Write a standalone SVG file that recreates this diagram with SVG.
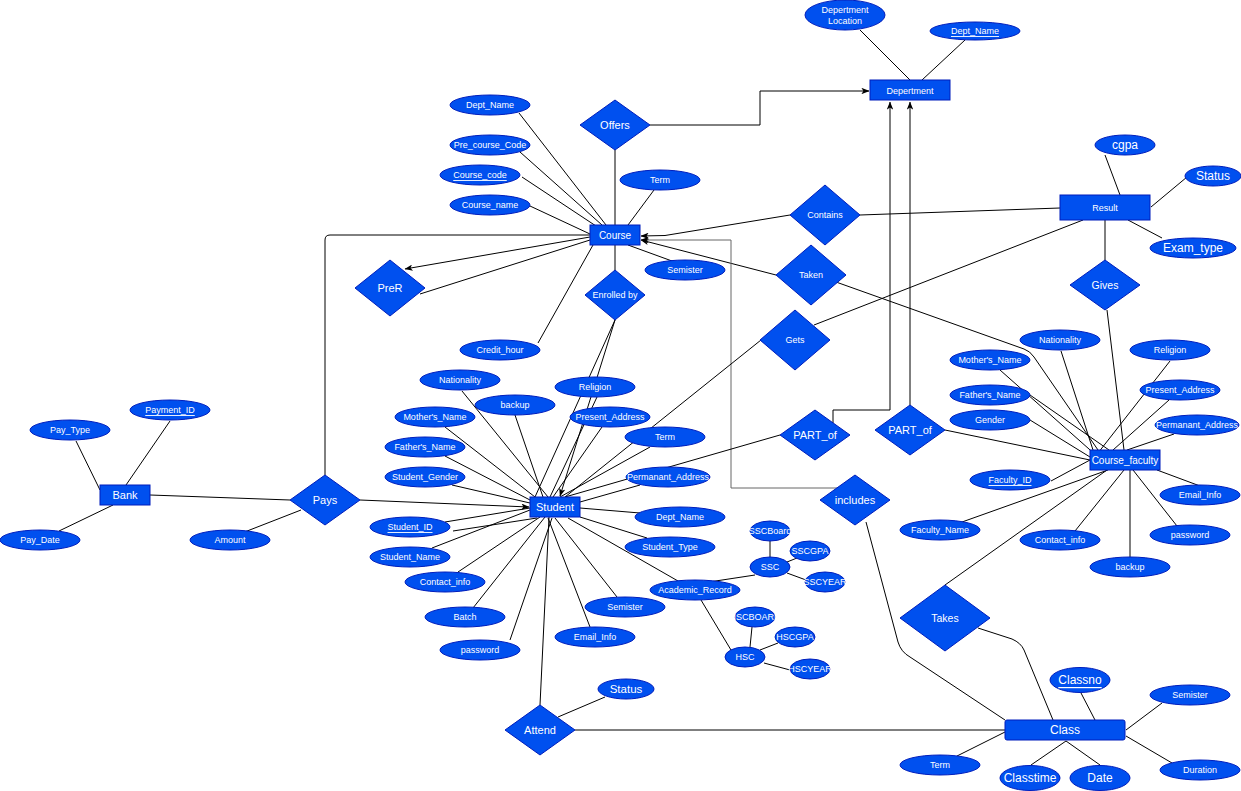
<svg xmlns="http://www.w3.org/2000/svg" width="1241" height="791" viewBox="0 0 1241 791">
<style>
.n{fill:#0050EF;stroke:#001DBC;stroke-width:1}
.t{fill:#fff;font-family:"Liberation Sans",Arial,sans-serif;font-size:9px;text-anchor:middle;dominant-baseline:central}
.u{text-decoration:underline}
.c line,.c path{stroke:#000;stroke-width:1;fill:none}
.c .g{stroke:#666}
</style>
<defs>
<marker id="ar" viewBox="0 0 10 8" refX="9.5" refY="4" markerWidth="8" markerHeight="6.4" orient="auto" markerUnits="userSpaceOnUse">
<path d="M0,0 L10,4 L0,8 L2.5,4 z" fill="#000"/>
</marker>
</defs>
<rect width="1241" height="791" fill="#fff"/>
<g class="c" id="connectors">
<line x1="860" y1="30" x2="910" y2="80"/>
<line x1="965" y1="40" x2="922" y2="80"/>
<path d="M650,125 L760,125 L760,91 L869,91" marker-end="url(#ar)"/>
<path d="M833,423 L833,410 L890,410 L890,102" marker-end="url(#ar)"/>
<path d="M910,405 L910,102" marker-end="url(#ar)"/>
<line x1="615" y1="150" x2="615" y2="225"/>
<line x1="519" y1="113" x2="606" y2="225"/>
<line x1="520" y1="152" x2="602" y2="225"/>
<line x1="522" y1="177" x2="596" y2="226"/>
<line x1="530" y1="206" x2="590" y2="234"/>
<line x1="654" y1="190" x2="628" y2="225"/>
<line x1="672" y1="261" x2="628" y2="245"/>
<line x1="615" y1="245" x2="615" y2="270"/>
<line x1="538" y1="343" x2="593" y2="245"/>
<path d="M325,475 L325,240 Q325,235 330,235 L590,235"/>
<path d="M590,237 L405,269" marker-end="url(#ar)"/>
<line x1="420" y1="294" x2="590" y2="240"/>
<path d="M790,215 L665,235.5 L641,236" marker-end="url(#ar)"/>
<line x1="1060" y1="208" x2="860" y2="215"/>
<path d="M776,275 L641,240" marker-end="url(#ar)"/>
<path class="g" d="M837,488 L731,488 L731,240 L641,240" marker-end="url(#ar)"/>
<path d="M836,282 L1024,349 Q1030,351 1034,357 L1098,450"/>
<line x1="761" y1="340" x2="565" y2="497"/>
<line x1="814" y1="325" x2="1083" y2="220"/>
<line x1="1105" y1="220" x2="1105" y2="260"/>
<line x1="1107" y1="310" x2="1124" y2="450"/>
<line x1="1105" y1="155" x2="1120" y2="195"/>
<line x1="1151" y1="207" x2="1187" y2="177"/>
<line x1="1128" y1="220" x2="1162" y2="238"/>
<line x1="1000" y1="370" x2="1098" y2="457"/>
<line x1="1061" y1="351" x2="1093" y2="450"/>
<line x1="1030" y1="395" x2="1109" y2="450"/>
<line x1="1030" y1="420" x2="1090" y2="457"/>
<line x1="945" y1="430" x2="1090" y2="460"/>
<line x1="1170" y1="361" x2="1098" y2="453"/>
<line x1="1169" y1="400" x2="1113" y2="450"/>
<line x1="1174" y1="434" x2="1127" y2="450"/>
<line x1="1051" y1="481" x2="1090" y2="460"/>
<line x1="962" y1="522" x2="1108" y2="470"/>
<line x1="1075" y1="531" x2="1124" y2="470"/>
<line x1="1130" y1="470" x2="1130" y2="557"/>
<line x1="1177" y1="526" x2="1133" y2="470"/>
<line x1="1200" y1="486" x2="1157" y2="470"/>
<line x1="945" y1="585" x2="1107" y2="470"/>
<path d="M866,522 L898,642 Q901,652 910,657 L1005,720"/>
<path d="M978,628 L1012,639 Q1021,643 1024,650 L1053,720"/>
<line x1="575" y1="730" x2="1005" y2="730"/>
<line x1="1081" y1="693" x2="1095" y2="720"/>
<line x1="1162" y1="703" x2="1126" y2="730"/>
<line x1="1172" y1="763" x2="1126" y2="736"/>
<line x1="957" y1="756" x2="1005" y2="732"/>
<line x1="1031" y1="765" x2="1066" y2="741"/>
<line x1="1100" y1="765" x2="1066" y2="741"/>
<line x1="540" y1="705" x2="549" y2="517"/>
<line x1="558" y1="717" x2="605" y2="697"/>
<line x1="76" y1="441" x2="100" y2="490"/>
<line x1="170" y1="421" x2="126" y2="485"/>
<line x1="59" y1="531" x2="113" y2="505"/>
<line x1="150" y1="495" x2="290" y2="500"/>
<line x1="242" y1="533" x2="301" y2="510"/>
<path d="M360,500 L529,507" marker-end="url(#ar)"/>
<path d="M615,320 L560,496" marker-end="url(#ar)"/>
<line x1="615" y1="320" x2="535" y2="497"/>
<line x1="780" y1="435" x2="565" y2="497"/>
<line x1="462" y1="391" x2="548" y2="497"/>
<line x1="515" y1="415" x2="543" y2="497"/>
<line x1="445" y1="427" x2="535" y2="497"/>
<line x1="445" y1="456" x2="530" y2="500"/>
<line x1="452" y1="485" x2="530" y2="503"/>
<line x1="445" y1="522" x2="530" y2="508"/>
<line x1="453" y1="531" x2="537" y2="518"/>
<line x1="432" y1="548" x2="530" y2="510"/>
<line x1="458" y1="572" x2="540" y2="517"/>
<line x1="473" y1="608" x2="545" y2="517"/>
<line x1="510" y1="640" x2="552" y2="518"/>
<line x1="597" y1="397" x2="550" y2="497"/>
<line x1="602" y1="427" x2="553" y2="497"/>
<line x1="650" y1="447" x2="560" y2="497"/>
<line x1="640" y1="485" x2="580" y2="502"/>
<line x1="580" y1="508" x2="640" y2="513"/>
<line x1="580" y1="517" x2="647" y2="538"/>
<line x1="568" y1="518" x2="678" y2="581"/>
<line x1="555" y1="518" x2="617" y2="597"/>
<line x1="548" y1="518" x2="590" y2="627"/>
<line x1="709" y1="582" x2="755" y2="575"/>
<line x1="701" y1="600" x2="731" y2="650"/>
<line x1="770" y1="541" x2="770" y2="557"/>
<line x1="787" y1="562" x2="797" y2="558"/>
<line x1="787" y1="573" x2="806" y2="580"/>
<line x1="752" y1="627" x2="750" y2="647"/>
<line x1="760" y1="650" x2="778" y2="643"/>
<line x1="764" y1="663" x2="790" y2="670"/>
</g>
<g id="department"><rect class="n" x="870" y="80" width="80" height="20"/><text class="t" x="910" y="91">Depertment</text></g>
<g id="dept-location"><ellipse class="n" cx="845" cy="15" rx="40" ry="15"/><text class="t" x="845" y="10">Depertment</text><text class="t" x="845" y="21">Location</text></g>
<g id="dept-name"><ellipse class="n" cx="975" cy="31" rx="45" ry="9"/><text class="t u" x="975" y="31">Dept_Name</text></g>
<g id="offers"><polygon class="n" points="615,100 650,125 615,150 580,125"/><text class="t" x="615" y="125" style="font-size:11px">Offers</text></g>
<g id="course"><rect class="n" x="590" y="225" width="50" height="20"/><text class="t" x="615" y="235" style="font-size:10px">Course</text></g>
<g id="c-deptname"><ellipse class="n" cx="490" cy="105" rx="40" ry="10"/><text class="t" x="490" y="105">Dept_Name</text></g>
<g id="c-precode"><ellipse class="n" cx="490" cy="145" rx="40" ry="10"/><text class="t" x="490" y="145">Pre_course_Code</text></g>
<g id="c-code"><ellipse class="n" cx="480" cy="175" rx="40" ry="10"/><text class="t u" x="480" y="175">Course_code</text></g>
<g id="c-name"><ellipse class="n" cx="490" cy="205" rx="40" ry="10"/><text class="t" x="490" y="205">Course_name</text></g>
<g id="c-term"><ellipse class="n" cx="660" cy="180" rx="40" ry="10"/><text class="t" x="660" y="180">Term</text></g>
<g id="c-semister"><ellipse class="n" cx="685" cy="270" rx="40" ry="10"/><text class="t" x="685" y="270">Semister</text></g>
<g id="c-credit"><ellipse class="n" cx="500" cy="350" rx="40" ry="10"/><text class="t" x="500" y="350">Credit_hour</text></g>
<g id="prer"><polygon class="n" points="390,260 425,288 390,316 355,288"/><text class="t" x="390" y="288" style="font-size:11px">PreR</text></g>
<g id="enrolled"><polygon class="n" points="615,270 645,295 615,320 585,295"/><text class="t" x="615" y="295">Enrolled by</text></g>
<g id="contains"><polygon class="n" points="825,185 860,215 825,245 790,215"/><text class="t" x="825" y="215">Contains</text></g>
<g id="taken"><polygon class="n" points="811,245 846,275 811,305 776,275"/><text class="t" x="811" y="275">Taken</text></g>
<g id="gets"><polygon class="n" points="795,310 830,340 795,370 760,340"/><text class="t" x="795" y="340">Gets</text></g>
<g id="partof1"><polygon class="n" points="815,410 850,435 815,460 780,435"/><text class="t" x="815" y="435" style="font-size:11px">PART_of</text></g>
<g id="partof2"><polygon class="n" points="910,405 945,430 910,455 875,430"/><text class="t" x="910" y="430" style="font-size:11px">PART_of</text></g>
<g id="includes"><polygon class="n" points="855,475 890,500 855,525 820,500"/><text class="t" x="855" y="500" style="font-size:11px">includes</text></g>
<g id="result"><rect class="n" x="1060" y="195" width="90" height="25"/><text class="t" x="1105" y="208">Result</text></g>
<g id="r-cgpa"><ellipse class="n" cx="1125" cy="145" rx="30" ry="10"/><text class="t" x="1125" y="145" style="font-size:12px">cgpa</text></g>
<g id="r-status"><ellipse class="n" cx="1213" cy="176" rx="28" ry="10"/><text class="t" x="1213" y="176" style="font-size:12px">Status</text></g>
<g id="r-examtype"><ellipse class="n" cx="1193" cy="248" rx="43" ry="10"/><text class="t" x="1193" y="248" style="font-size:12px">Exam_type</text></g>
<g id="gives"><polygon class="n" points="1105,260 1140,285 1105,310 1070,285"/><text class="t" x="1105" y="285" style="font-size:10.5px">Gives</text></g>
<g id="bank"><rect class="n" x="100" y="485" width="50" height="20"/><text class="t" x="125" y="495" style="font-size:11px">Bank</text></g>
<g id="b-payid"><ellipse class="n" cx="170" cy="410" rx="40" ry="10"/><text class="t u" x="170" y="410">Payment_ID</text></g>
<g id="b-paytype"><ellipse class="n" cx="70" cy="430" rx="40" ry="10"/><text class="t" x="70" y="430">Pay_Type</text></g>
<g id="b-paydate"><ellipse class="n" cx="40" cy="540" rx="40" ry="10"/><text class="t" x="40" y="540">Pay_Date</text></g>
<g id="p-amount"><ellipse class="n" cx="230" cy="540" rx="40" ry="10"/><text class="t" x="230" y="540">Amount</text></g>
<g id="pays"><polygon class="n" points="325,475 360,500 325,525 290,500"/><text class="t" x="325" y="500" style="font-size:11px">Pays</text></g>
<g id="student"><rect class="n" x="530" y="497" width="50" height="20"/><text class="t" x="555" y="507" style="font-size:11px">Student</text></g>
<g id="s-nationality"><ellipse class="n" cx="460" cy="380" rx="40" ry="10"/><text class="t" x="460" y="380">Nationality</text></g>
<g id="s-backup"><ellipse class="n" cx="515" cy="405" rx="40" ry="10"/><text class="t" x="515" y="405">backup</text></g>
<g id="s-mother"><ellipse class="n" cx="435" cy="417" rx="40" ry="10"/><text class="t" x="435" y="417">Mother's_Name</text></g>
<g id="s-father"><ellipse class="n" cx="425" cy="447" rx="40" ry="10"/><text class="t" x="425" y="447">Father's_Name</text></g>
<g id="s-gender"><ellipse class="n" cx="425" cy="477" rx="40" ry="10"/><text class="t" x="425" y="477">Student_Gender</text></g>
<g id="s-id"><ellipse class="n" cx="410" cy="527" rx="40" ry="10"/><text class="t u" x="410" y="527">Student_ID</text></g>
<g id="s-name"><ellipse class="n" cx="410" cy="557" rx="40" ry="10"/><text class="t" x="410" y="557">Student_Name</text></g>
<g id="s-contact"><ellipse class="n" cx="445" cy="582" rx="40" ry="10"/><text class="t" x="445" y="582">Contact_info</text></g>
<g id="s-batch"><ellipse class="n" cx="465" cy="617" rx="40" ry="10"/><text class="t" x="465" y="617">Batch</text></g>
<g id="s-password"><ellipse class="n" cx="480" cy="650" rx="40" ry="10"/><text class="t" x="480" y="650">password</text></g>
<g id="s-religion"><ellipse class="n" cx="595" cy="387" rx="40" ry="10"/><text class="t" x="595" y="387">Religion</text></g>
<g id="s-present"><ellipse class="n" cx="610" cy="417" rx="40" ry="10"/><text class="t" x="610" y="417">Present_Address</text></g>
<g id="s-term"><ellipse class="n" cx="665" cy="437" rx="40" ry="10"/><text class="t" x="665" y="437">Term</text></g>
<g id="s-permanent"><ellipse class="n" cx="668" cy="477" rx="42" ry="10"/><text class="t" x="668" y="477">Permanant_Address</text></g>
<g id="s-dept"><ellipse class="n" cx="680" cy="517" rx="45" ry="10"/><text class="t" x="680" y="517">Dept_Name</text></g>
<g id="s-type"><ellipse class="n" cx="670" cy="547" rx="45" ry="10"/><text class="t" x="670" y="547">Student_Type</text></g>
<g id="s-academic"><ellipse class="n" cx="695" cy="590" rx="45" ry="10"/><text class="t" x="695" y="590">Academic_Record</text></g>
<g id="s-semister"><ellipse class="n" cx="625" cy="607" rx="40" ry="10"/><text class="t" x="625" y="607">Semister</text></g>
<g id="s-email"><ellipse class="n" cx="595" cy="637" rx="40" ry="10"/><text class="t" x="595" y="637">Email_Info</text></g>
<g id="ssc"><ellipse class="n" cx="770" cy="567" rx="20" ry="10"/><text class="t" x="770" y="567">SSC</text></g>
<g id="sscboard"><ellipse class="n" cx="770" cy="531" rx="20" ry="10"/><text class="t" x="770" y="531">SSCBoard</text></g>
<g id="sscgpa"><ellipse class="n" cx="810" cy="551" rx="20" ry="10"/><text class="t" x="810" y="551">SSCGPA</text></g>
<g id="sscyear"><ellipse class="n" cx="825" cy="582" rx="20" ry="10"/><text class="t" x="825" y="582">SSCYEAR</text></g>
<g id="hsc"><ellipse class="n" cx="745" cy="657" rx="20" ry="10"/><text class="t" x="745" y="657">HSC</text></g>
<g id="hscboard"><ellipse class="n" cx="755" cy="617" rx="20" ry="10"/><text class="t" x="755" y="617">HSCBOARD</text></g>
<g id="hscgpa"><ellipse class="n" cx="795" cy="637" rx="20" ry="10"/><text class="t" x="795" y="637">HSCGPA</text></g>
<g id="hscyear"><ellipse class="n" cx="810" cy="669" rx="20" ry="10"/><text class="t" x="810" y="669">HSCYEAR</text></g>
<g id="course-faculty"><rect class="n" x="1090" y="450" width="70" height="20"/><text class="t" x="1125" y="460" style="font-size:10px">Course_faculty</text></g>
<g id="f-nationality"><ellipse class="n" cx="1060" cy="340" rx="40" ry="10"/><text class="t" x="1060" y="340">Nationality</text></g>
<g id="f-religion"><ellipse class="n" cx="1170" cy="350" rx="40" ry="10"/><text class="t" x="1170" y="350">Religion</text></g>
<g id="f-mother"><ellipse class="n" cx="990" cy="360" rx="40" ry="10"/><text class="t" x="990" y="360">Mother's_Name</text></g>
<g id="f-present"><ellipse class="n" cx="1180" cy="390" rx="40" ry="10"/><text class="t" x="1180" y="390">Present_Address</text></g>
<g id="f-father"><ellipse class="n" cx="990" cy="395" rx="40" ry="10"/><text class="t" x="990" y="395">Father's_Name</text></g>
<g id="f-gender"><ellipse class="n" cx="990" cy="420" rx="40" ry="10"/><text class="t" x="990" y="420">Gender</text></g>
<g id="f-permanent"><ellipse class="n" cx="1197" cy="425" rx="42" ry="10"/><text class="t" x="1197" y="425">Permanant_Address</text></g>
<g id="f-id"><ellipse class="n" cx="1010" cy="480" rx="40" ry="10"/><text class="t u" x="1010" y="480">Faculty_ID</text></g>
<g id="f-email"><ellipse class="n" cx="1200" cy="495" rx="40" ry="10"/><text class="t" x="1200" y="495">Email_Info</text></g>
<g id="f-name"><ellipse class="n" cx="940" cy="530" rx="40" ry="10"/><text class="t" x="940" y="530">Faculty_Name</text></g>
<g id="f-password"><ellipse class="n" cx="1190" cy="535" rx="40" ry="10"/><text class="t" x="1190" y="535">password</text></g>
<g id="f-contact"><ellipse class="n" cx="1060" cy="540" rx="40" ry="10"/><text class="t" x="1060" y="540">Contact_info</text></g>
<g id="f-backup"><ellipse class="n" cx="1130" cy="567" rx="40" ry="10"/><text class="t" x="1130" y="567">backup</text></g>
<g id="takes"><polygon class="n" points="945,585 990,618 945,651 900,618"/><text class="t" x="945" y="618" style="font-size:10.5px">Takes</text></g>
<g id="class"><rect class="n" x="1005" y="720" width="120" height="20" rx="2"/><text class="t" x="1065" y="730" style="font-size:12px">Class</text></g>
<g id="cl-classno"><ellipse class="n" cx="1080" cy="680" rx="30" ry="12.5"/><text class="t u" x="1080" y="680" style="font-size:12px">Classno</text></g>
<g id="cl-semister"><ellipse class="n" cx="1190" cy="695" rx="40" ry="10"/><text class="t" x="1190" y="695">Semister</text></g>
<g id="cl-term"><ellipse class="n" cx="940" cy="765" rx="40" ry="10"/><text class="t" x="940" y="765">Term</text></g>
<g id="cl-classtime"><ellipse class="n" cx="1030" cy="778" rx="30" ry="12.5"/><text class="t" x="1030" y="778" style="font-size:12px">Classtime</text></g>
<g id="cl-date"><ellipse class="n" cx="1100" cy="778" rx="30" ry="12.5"/><text class="t" x="1100" y="778" style="font-size:12px">Date</text></g>
<g id="cl-duration"><ellipse class="n" cx="1200" cy="770" rx="40" ry="10"/><text class="t" x="1200" y="770">Duration</text></g>
<g id="attend"><polygon class="n" points="540,705 575,730 540,755 505,730"/><text class="t" x="540" y="730" style="font-size:11px">Attend</text></g>
<g id="a-status"><ellipse class="n" cx="626" cy="689" rx="28" ry="10"/><text class="t" x="626" y="689" style="font-size:11.5px">Status</text></g>
</svg>
